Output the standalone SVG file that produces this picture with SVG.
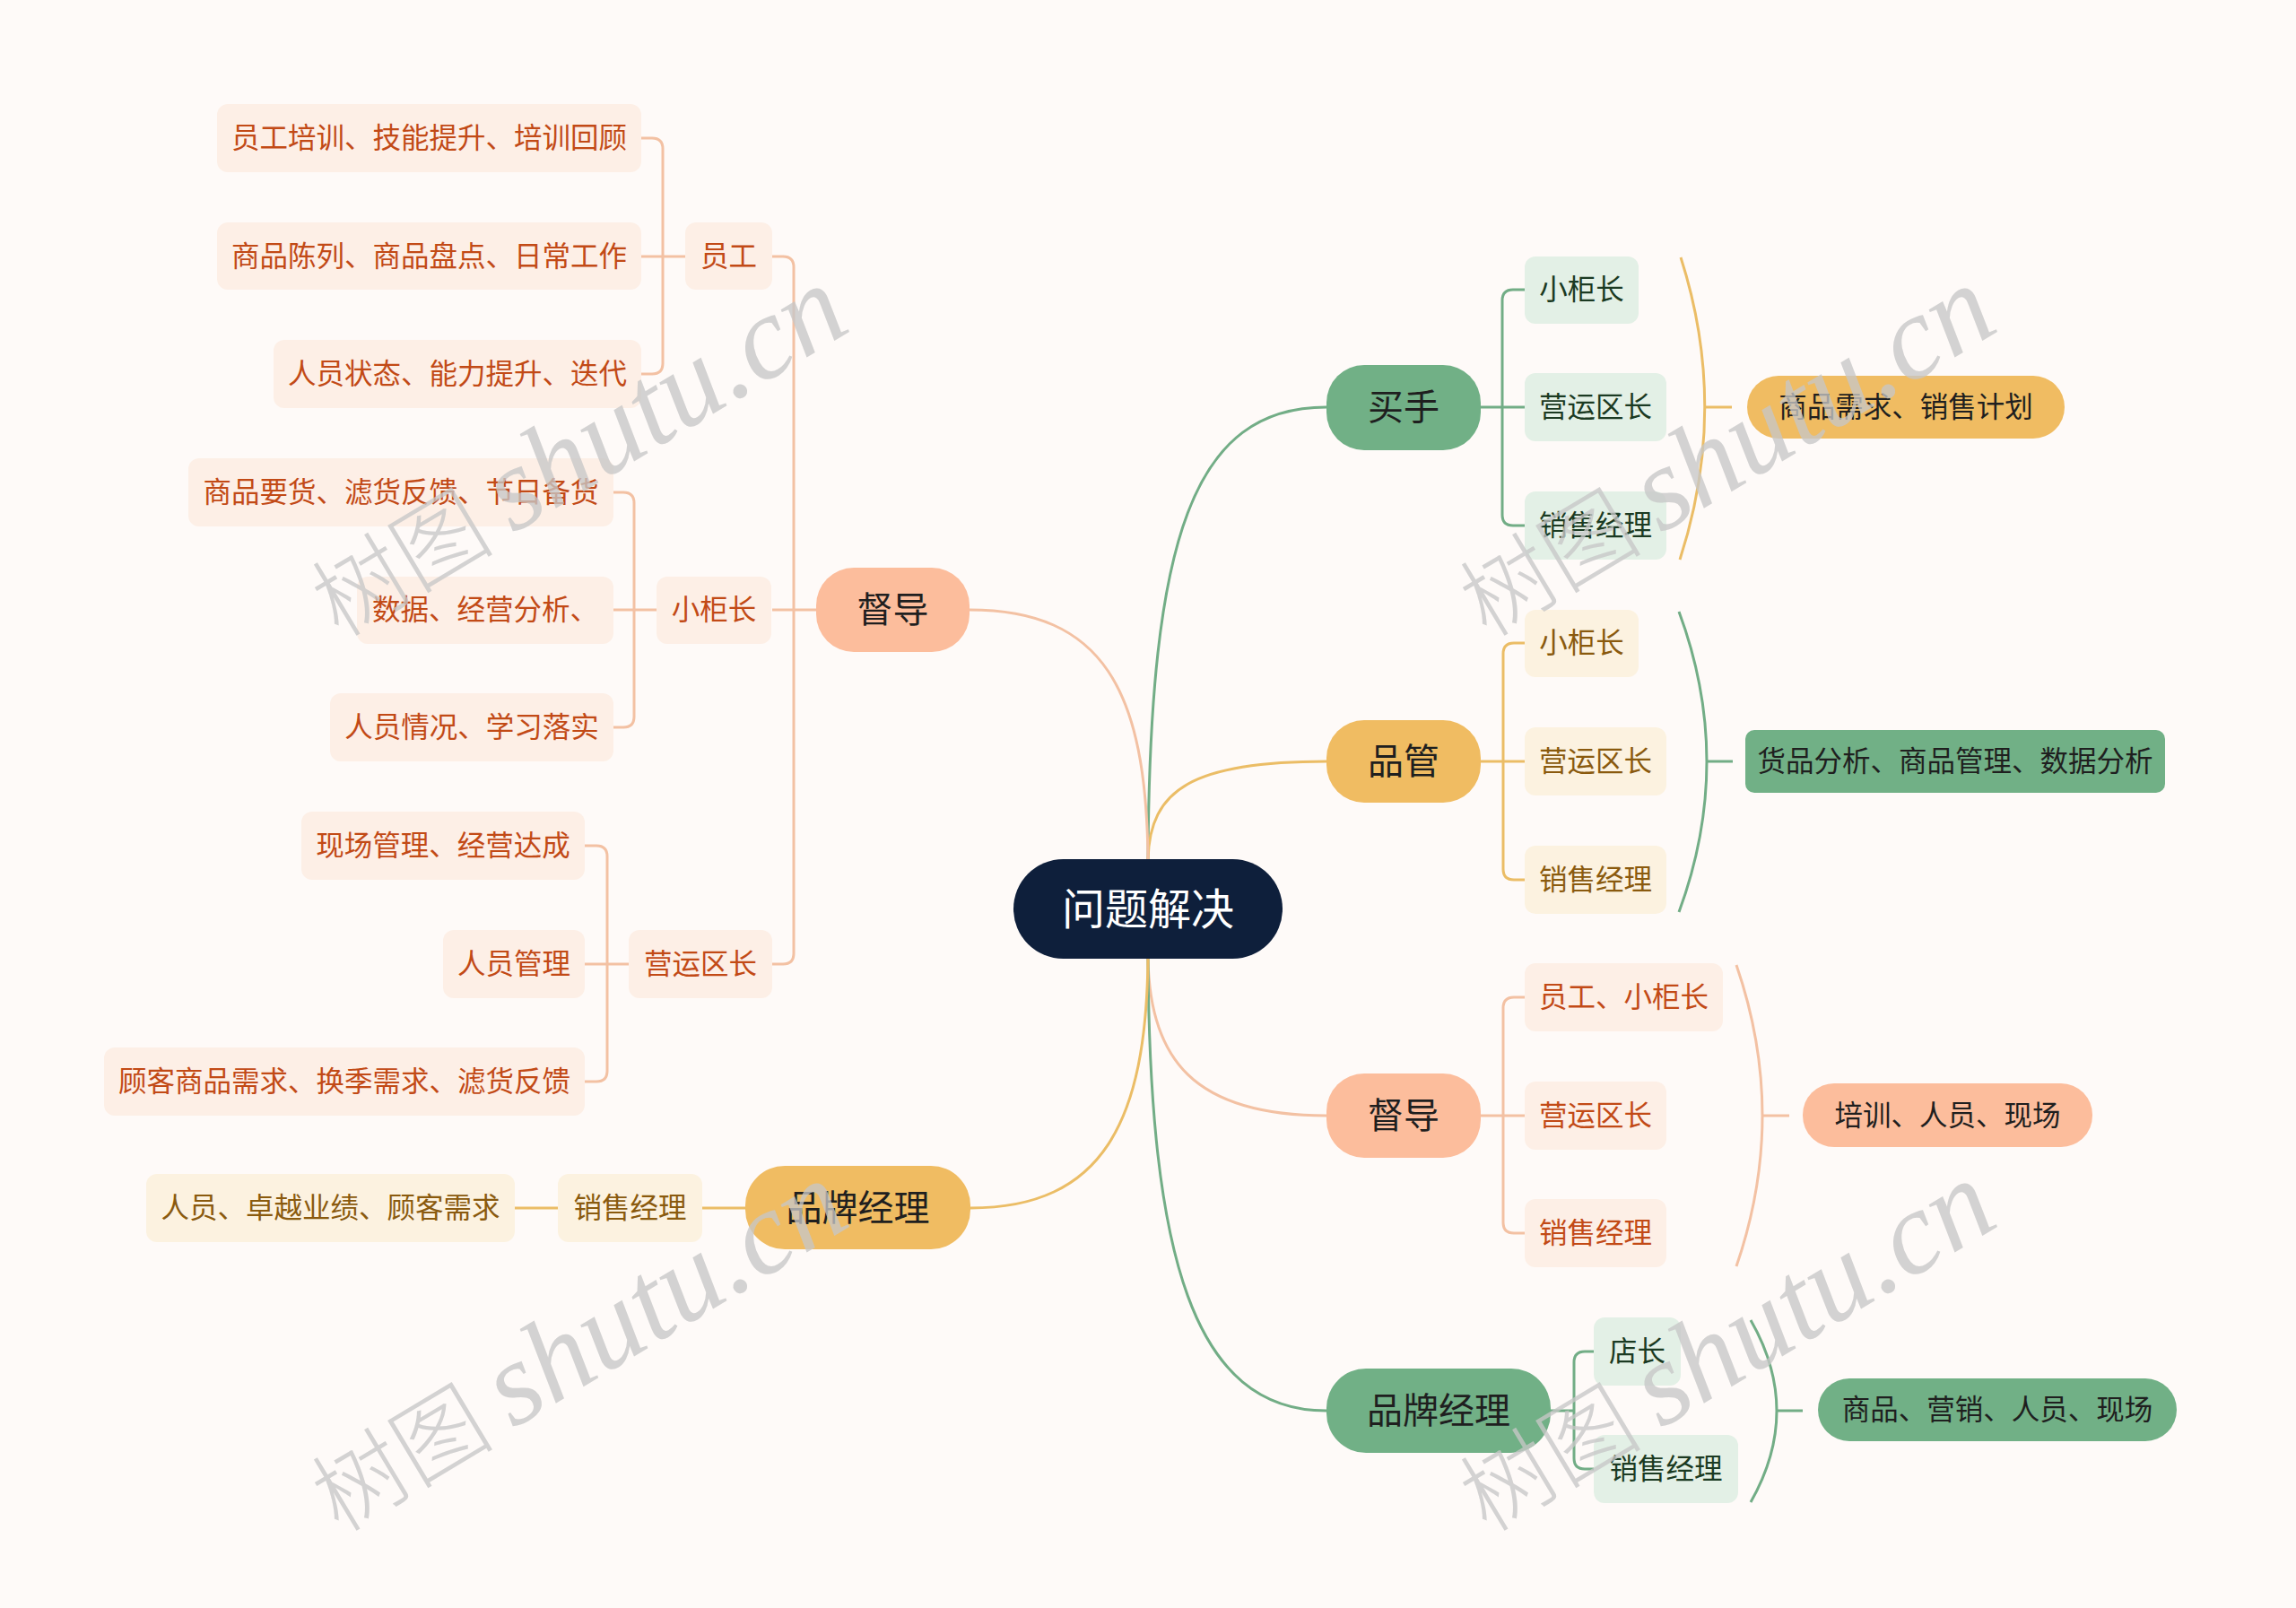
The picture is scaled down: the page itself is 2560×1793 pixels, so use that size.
<svg xmlns="http://www.w3.org/2000/svg" width="2560" height="1793" viewBox="0 0 2560 1793">
<style>
.t{font-family:"Noto Sans CJK SC","Noto Sans",sans-serif;text-anchor:middle;dominant-baseline:central;}
.s32{font-size:31.5px;}.s40{font-size:40px;}.s48{font-size:48px;}
.gm{fill:#71b086;}.om{fill:#f0bc62;}.pm{fill:#fcbd9c;}
.gc{fill:#e3f0e6;}.oc{fill:#fcf2e0;}.pc{fill:#fdefe6;}
.tm{fill:#1f1f1f;}.tg{fill:#1b3a22;}.to{fill:#8a5a0e;}.tp{fill:#c24a16;}
.lg{fill:none;stroke:#72ad86;stroke-width:3;}
.lo{fill:none;stroke:#ebbd66;stroke-width:3;}
.lp{fill:none;stroke:#f3c1a3;stroke-width:3;}
.wm{fill:#c6c6c6;fill-opacity:0.78;}
.wc{font-family:"Noto Sans CJK SC",sans-serif;font-weight:300;font-size:102px;}
.we{font-family:"Liberation Serif",serif;font-style:italic;font-size:132px;}
</style>
<rect x="0" y="0" width="2560" height="1793" fill="#fefaf8"/>
<g id="connectors">
  <path class="lg" d="M1280 958 C1282 600 1330 454 1479 454"/>
  <path class="lo" d="M1280 958 C1282 880 1330 849 1479 849"/>
  <path class="lp" d="M1280 1069 C1282 1180 1330 1244 1479 1244"/>
  <path class="lg" d="M1280 1069 C1282 1400 1330 1573 1479 1573"/>
  <path class="lp" d="M1280 958 C1278 770 1230 680 1081 680"/>
  <path class="lo" d="M1280 1069 C1278 1250 1230 1347 1082 1347"/>
  <path class="lg" d="M1651 454 H1700 M1700 323 H1687 Q1675 323 1675 335 V574 Q1675 586 1687 586 H1700"/>
  <path class="lo" d="M1874 287 Q1928 455 1873 624 M1901 454 H1931"/>
  <path class="lo" d="M1651 849 H1700 M1700 717 H1688 Q1676 717 1676 729 V969 Q1676 981 1688 981 H1700"/>
  <path class="lg" d="M1872 682 Q1934 849 1872 1017 M1903 849 H1932"/>
  <path class="lp" d="M1651 1244 H1700 M1700 1112 H1688 Q1676 1112 1676 1124 V1363 Q1676 1375 1688 1375 H1700"/>
  <path class="lp" d="M1936 1076 Q1994 1244 1936 1412 M1965 1244 H1995"/>
  <path class="lg" d="M1729 1573 H1755 M1777 1507 H1767 Q1755 1507 1755 1519 V1626 Q1755 1638 1767 1638 H1777"/>
  <path class="lg" d="M1952 1472 Q2010 1573 1952 1675 M1981 1573 H2010"/>
  <path class="lp" d="M861 680 H910 M861 286 H873 Q885 286 885 298 V1063 Q885 1075 873 1075 H861"/>
  <path class="lp" d="M715 286 H764 M715 154 H727 Q739 154 739 166 V405 Q739 417 727 417 H715"/>
  <path class="lp" d="M684 680 H732 M684 549 H695 Q707 549 707 561 V799 Q707 811 695 811 H684"/>
  <path class="lp" d="M652 1075 H701 M652 943 H665 Q677 943 677 955 V1194 Q677 1206 665 1206 H652"/>
  <path class="lo" d="M574 1347 H622 M783 1347 H831"/>
</g>
<g id="root"><rect x="1130" y="958" width="300" height="111" rx="55.5" fill="#0e1f3b"/><text class="t s48" x="1280" y="1010" fill="#ffffff">问题解决</text></g>
<g id="maishou"><rect class="gm" x="1479" y="407" width="172" height="95" rx="42"/><text class="t s40 tm" x="1565" y="451">买手</text></g>
<g id="maishou-c1"><rect class="gc" x="1700" y="286" width="127" height="75" rx="12"/><text class="t s32 tg" x="1763.5" y="320">小柜长</text></g>
<g id="maishou-c2"><rect class="gc" x="1700" y="416" width="158" height="76" rx="12"/><text class="t s32 tg" x="1779" y="451">营运区长</text></g>
<g id="maishou-c3"><rect class="gc" x="1700" y="548" width="158" height="76" rx="12"/><text class="t s32 tg" x="1779" y="583">销售经理</text></g>
<g id="maishou-sum"><rect class="om" x="1948" y="419" width="354" height="70" rx="35"/><text class="t s32 tm" x="2125" y="451">商品需求、销售计划</text></g>
<g id="pinguan"><rect class="om" x="1479" y="803" width="172" height="92" rx="42"/><text class="t s40 tm" x="1565" y="846">品管</text></g>
<g id="pinguan-c1"><rect class="oc" x="1700" y="680" width="127" height="75" rx="12"/><text class="t s32 to" x="1763.5" y="714">小柜长</text></g>
<g id="pinguan-c2"><rect class="oc" x="1700" y="811" width="158" height="76" rx="12"/><text class="t s32 to" x="1779" y="846">营运区长</text></g>
<g id="pinguan-c3"><rect class="oc" x="1700" y="943" width="158" height="76" rx="12"/><text class="t s32 to" x="1779" y="978">销售经理</text></g>
<g id="pinguan-sum"><rect class="gm" x="1946" y="814" width="468" height="70" rx="10"/><text class="t s32 tm" x="2180" y="846">货品分析、商品管理、数据分析</text></g>
<g id="dudao-r"><rect class="pm" x="1479" y="1197" width="172" height="94" rx="42"/><text class="t s40 tm" x="1565" y="1241">督导</text></g>
<g id="dudao-r-c1"><rect class="pc" x="1700" y="1074" width="221" height="76" rx="12"/><text class="t s32 tp" x="1810.5" y="1109">员工、小柜长</text></g>
<g id="dudao-r-c2"><rect class="pc" x="1700" y="1206" width="158" height="76" rx="12"/><text class="t s32 tp" x="1779" y="1241">营运区长</text></g>
<g id="dudao-r-c3"><rect class="pc" x="1700" y="1337" width="158" height="76" rx="12"/><text class="t s32 tp" x="1779" y="1372">销售经理</text></g>
<g id="dudao-r-sum"><rect class="pm" x="2010" y="1208" width="323" height="71" rx="35"/><text class="t s32 tm" x="2171.5" y="1241">培训、人员、现场</text></g>
<g id="ppjl-r"><rect class="gm" x="1479" y="1526" width="250" height="94" rx="44"/><text class="t s40 tm" x="1604" y="1570">品牌经理</text></g>
<g id="ppjl-r-c1"><rect class="gc" x="1777" y="1469" width="97" height="76" rx="12"/><text class="t s32 tg" x="1825.5" y="1504">店长</text></g>
<g id="ppjl-r-c2"><rect class="gc" x="1777" y="1600" width="161" height="76" rx="12"/><text class="t s32 tg" x="1857.5" y="1635">销售经理</text></g>
<g id="ppjl-r-sum"><rect class="gm" x="2027" y="1537" width="400" height="70" rx="35"/><text class="t s32 tm" x="2227" y="1569">商品、营销、人员、现场</text></g>
<g id="dudao-l"><rect class="pm" x="910" y="633" width="171" height="94" rx="42"/><text class="t s40 tm" x="995.5" y="677">督导</text></g>
<g id="dudao-l-yg"><rect class="pc" x="764" y="248" width="97" height="75" rx="12"/><text class="t s32 tp" x="812.5" y="283">员工</text></g>
<g id="dudao-l-xgz"><rect class="pc" x="732" y="643" width="128" height="75" rx="12"/><text class="t s32 tp" x="796" y="677">小柜长</text></g>
<g id="dudao-l-yyqz"><rect class="pc" x="701" y="1037" width="160" height="76" rx="12"/><text class="t s32 tp" x="781" y="1072">营运区长</text></g>
<g id="yg-1"><rect class="pc" x="242" y="116" width="473" height="76" rx="12"/><text class="t s32 tp" x="478.5" y="151">员工培训、技能提升、培训回顾</text></g>
<g id="yg-2"><rect class="pc" x="242" y="248" width="473" height="75" rx="12"/><text class="t s32 tp" x="478.5" y="283">商品陈列、商品盘点、日常工作</text></g>
<g id="yg-3"><rect class="pc" x="305" y="379" width="410" height="76" rx="12"/><text class="t s32 tp" x="510" y="414">人员状态、能力提升、迭代</text></g>
<g id="xgz-1"><rect class="pc" x="210" y="511" width="474" height="76" rx="12"/><text class="t s32 tp" x="447" y="546">商品要货、滤货反馈、节日备货</text></g>
<g id="xgz-2"><rect class="pc" x="398" y="643" width="286" height="75" rx="12"/><text class="t s32 tp" x="541" y="677">数据、经营分析、</text></g>
<g id="xgz-3"><rect class="pc" x="368" y="773" width="316" height="76" rx="12"/><text class="t s32 tp" x="526" y="808">人员情况、学习落实</text></g>
<g id="yyqz-1"><rect class="pc" x="336" y="905" width="316" height="76" rx="12"/><text class="t s32 tp" x="494" y="940">现场管理、经营达成</text></g>
<g id="yyqz-2"><rect class="pc" x="494" y="1037" width="158" height="76" rx="12"/><text class="t s32 tp" x="573" y="1072">人员管理</text></g>
<g id="yyqz-3"><rect class="pc" x="116" y="1168" width="536" height="76" rx="12"/><text class="t s32 tp" x="384" y="1203">顾客商品需求、换季需求、滤货反馈</text></g>
<g id="ppjl-l"><rect class="om" x="831" y="1300" width="251" height="93" rx="44"/><text class="t s40 tm" x="956.5" y="1344">品牌经理</text></g>
<g id="ppjl-l-c1"><rect class="oc" x="622" y="1309" width="161" height="76" rx="12"/><text class="t s32 to" x="702.5" y="1344">销售经理</text></g>
<g id="ppjl-l-c2"><rect class="oc" x="163" y="1309" width="411" height="76" rx="12"/><text class="t s32 to" x="368.5" y="1344">人员、卓越业绩、顾客需求</text></g>
<g id="watermark" class="wm">
  <text transform="translate(378 712) rotate(-31)"><tspan class="wc">树图</tspan><tspan class="we" dx="22">shutu.cn</tspan></text>
  <text transform="translate(378 1710) rotate(-31)"><tspan class="wc">树图</tspan><tspan class="we" dx="22">shutu.cn</tspan></text>
  <text transform="translate(1658 712) rotate(-31)"><tspan class="wc">树图</tspan><tspan class="we" dx="22">shutu.cn</tspan></text>
  <text transform="translate(1658 1710) rotate(-31)"><tspan class="wc">树图</tspan><tspan class="we" dx="22">shutu.cn</tspan></text>
</g>
</svg>
